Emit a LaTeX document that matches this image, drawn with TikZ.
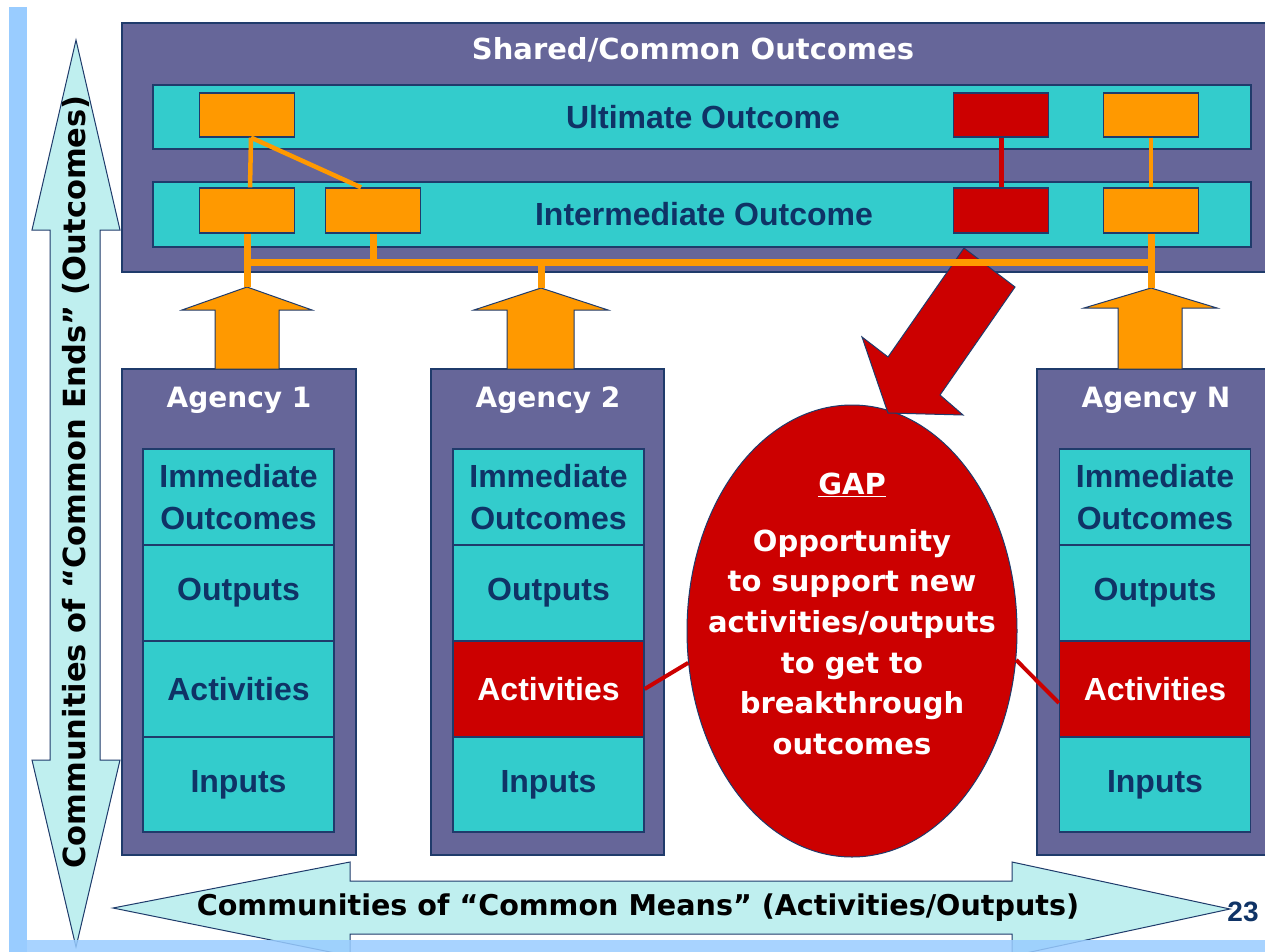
\documentclass[tikz,border=0pt]{standalone}
\usepackage{fontspec}
\setmainfont{DejaVu Sans}
\newfontfamily\arialfont{Liberation Sans}
\usetikzlibrary{shapes.geometric,calc}
\definecolor{purp}{HTML}{666699}
\definecolor{teal1}{HTML}{33CCCC}
\definecolor{orng}{HTML}{FF9900}
\definecolor{redc}{HTML}{CC0000}
\definecolor{navy}{HTML}{0F3366}
\definecolor{bord}{HTML}{1F3B6B}
\definecolor{lcyan}{HTML}{BFEFEF}
\definecolor{frameblue}{HTML}{99CCFF}
\tikzset{
  edge/.style={draw=bord, line width=1.2pt},
  bigbox/.style={edge, fill=purp, inner sep=0},
  band/.style={edge, fill=teal1, minimum width=1098pt, inner sep=0},
  obox/.style={edge, fill=orng, minimum width=95pt, minimum height=44pt, inner sep=0},
  rbox/.style={edge, fill=redc, minimum width=95pt, minimum height=44pt, inner sep=0},
  cell/.style={edge, fill=teal1, minimum width=191pt, minimum height=96pt, inner sep=0,
    font=\arialfont\bfseries\fontsize{32}{42}\selectfont, text=navy, align=center},
  redcell/.style={cell, fill=redc, text=white},
  navytext/.style={font=\arialfont\bfseries\fontsize{32}{40}\selectfont, text=navy},
  whitetitle/.style={font=\bfseries\fontsize{28}{34}\selectfont, text=white},
  blocktip/.style={edge, fill=orng, line width=1pt},
  thinorange/.style={draw=orng, line width=4.5pt},
  thickorange/.style={draw=orng, line width=7pt},
  redline/.style={draw=redc, line width=4pt},
  cyanarrow/.style={draw=bord, fill=lcyan, line width=1pt},
}
\begin{document}
\begin{tikzpicture}[x=1pt,y=-1pt]
\useasboundingbox (0,0) rectangle (1265,952);
\clip (0,0) rectangle (1265,952);
\fill[white] (0,0) rectangle (1265,952);
% frame
\fill[frameblue] (9,7) rectangle (27,952);

% top box
\node[bigbox, minimum width=1153pt, minimum height=249pt] (shared) at (698.5,147.5) {};
\node[whitetitle, font=\bfseries\fontsize{29}{34}\selectfont] (sharedtxt) at (693,50) {Shared/Common Outcomes};
\node[band, minimum height=64pt] (ult) at (702,117) {};
\node[band, minimum height=65pt] (inter) at (702,214.5) {};
\node[navytext] (ulttxt) at (703,117) {Ultimate Outcome};
\node[navytext] (intertxt) at (704,214) {Intermediate Outcome};

% small boxes
\coordinate (uo1c) at (247,115);
\coordinate (io1c) at (247,210.5);
\coordinate (io2c) at (373,210.5);
\coordinate (uoRc) at (1001,115);
\coordinate (ioRc) at (1001,210.5);
\coordinate (uoNc) at (1151,115);
\coordinate (ioNc) at (1151,210.5);
\node[obox] (uo1) at (uo1c) {};
\node[obox, minimum height=45pt] (io1) at (io1c) {};
\node[obox, minimum height=45pt] (io2) at (io2c) {};
\node[rbox] (uoR) at (uoRc) {};
\node[rbox, minimum height=45pt] (ioR) at (ioRc) {};
\node[obox] (uoN) at (uoNc) {};
\node[obox, minimum height=45pt] (ioN) at (ioNc) {};
\draw[thinorange] ($(uo1.south)+(4,0)$) -- ($(io1.north)+(3,0)$);
\draw[thinorange] ($(uo1.south)+(4,0)$) -- ($(io2.north)+(-12,0)$);
\draw[thinorange] (uoN.south) -- (ioN.north);
\draw[redline, line width=5pt] (uoR.south) -- (ioR.north);

% agency boxes
\node[bigbox, minimum width=234pt, minimum height=486pt] (ag1) at (239,612) {};
\node[bigbox, minimum width=233pt, minimum height=486pt] (ag2) at (547.5,612) {};
\node[bigbox, minimum width=238pt, minimum height=486pt] (agN) at (1156,612) {};
\node[whitetitle] (ag1t) at (239,400) {Agency 1};
\node[whitetitle] (ag2t) at (548,400) {Agency 2};
\node[whitetitle] (agNt) at (1156,400) {Agency N};

% cells agency 1
\node[cell] (a1imm) at (238.5,497) {Immediate\\Outcomes};
\node[cell] (a1out) at (238.5,593) {Outputs};
\node[cell] (a1act) at (238.5,689) {Activities};
\node[cell, minimum height=95pt] (a1inp) at (238.5,784.5) {Inputs};
% cells agency 2
\node[cell] (a2imm) at (548.5,497) {Immediate\\Outcomes};
\node[cell] (a2out) at (548.5,593) {Outputs};
\node[redcell] (a2act) at (548.5,689) {Activities};
\node[cell, minimum height=95pt] (a2inp) at (548.5,784.5) {Inputs};
% cells agency N
\node[cell] (aNimm) at (1155,497) {Immediate\\Outcomes};
\node[cell] (aNout) at (1155,593) {Outputs};
\node[redcell] (aNact) at (1155,689) {Activities};
\node[cell, minimum height=95pt] (aNinp) at (1155,784.5) {Inputs};

% orange block arrows
\coordinate (t1) at (247,287);
\coordinate (t2) at (541,288);
\coordinate (tN) at (1151,288);
\draw[blocktip] (t1) -- ++(65,23) -- ++(-33,0) -- ++(0,59) -- ++(-64,0) -- ++(0,-59) -- ++(-33,0) -- cycle;
\draw[blocktip] (t2) -- ++(67,22) -- ++(-34,0) -- ++(0,59) -- ++(-67,0) -- ++(0,-59) -- ++(-33,0) -- cycle;
\draw[blocktip] (tN) -- ++(66,20) -- ++(-35,0) -- ++(0,61) -- ++(-64,0) -- ++(0,-61) -- ++(-34,0) -- cycle;

% GAP ellipse
\node[ellipse, draw=bord, line width=1pt, fill=redc, minimum width=330pt, minimum height=452pt, inner sep=0] (gap) at (852,631) {};
\node[font=\bfseries\fontsize{29}{40.6}\selectfont, text=white, align=center] (gaptxt) at (852,614)
  {\underline{GAP}\\[16pt]Opportunity\\to support new\\activities/outputs\\to get to\\breakthrough\\outcomes};
\draw[redline] (a2act.east) -- (gap.191);
\draw[redline] (gap.350) -- ($(aNact.west)+(0,14)$);

% big red arrow
\draw[edge, fill=redc, line width=1pt] (964,248) -- (1015,287) -- (940,395) -- (963,415) -- (888,413) -- (862,337) -- (888,357) -- cycle;

% orange thick connectors
\coordinate (b1) at (247,262);
\coordinate (b2) at (373,262);
\coordinate (b3) at (541,262);
\coordinate (bN) at (1151,262);
\draw[thickorange] (b1) -- (bN);
\draw[thickorange] (io1.south) -- (t1);
\draw[thickorange] (io2.south) -- (b2);
\draw[thickorange] (b3) -- (t2);
\draw[thickorange] (ioN.south) -- (tN);

% left vertical double arrow
\draw[cyanarrow] (76,40) -- (120,230) -- (100,230) -- (100,760) -- (120,760) -- (76,947) -- (32,760) -- (50,760) -- (50,230) -- (32,230) -- cycle;
\node[rotate=90, font=\bfseries\fontsize{30.5}{34}\selectfont, text=black] (ends) at (76,482) {Communities of “Common Ends” (Outcomes)};

% bottom horizontal double arrow
\draw[cyanarrow] (113,908) -- (350,862) -- (350,881) -- (1012,881) -- (1012,862) -- (1230,909) -- (1012,956) -- (1012,934) -- (350,934) -- (350,956) -- cycle;
\node[font=\bfseries\fontsize{28.6}{34}\selectfont, text=black] (means) at (638,908) {Communities of “Common Means” (Activities/Outputs)};

% bottom frame bar
\fill[frameblue, opacity=0.85] (9,940) rectangle (1265,952);

% page number
\node[font=\arialfont\bfseries\fontsize{28}{30}\selectfont, text=navy] (pnum) at (1243,912) {23};
\end{tikzpicture}
\end{document}
